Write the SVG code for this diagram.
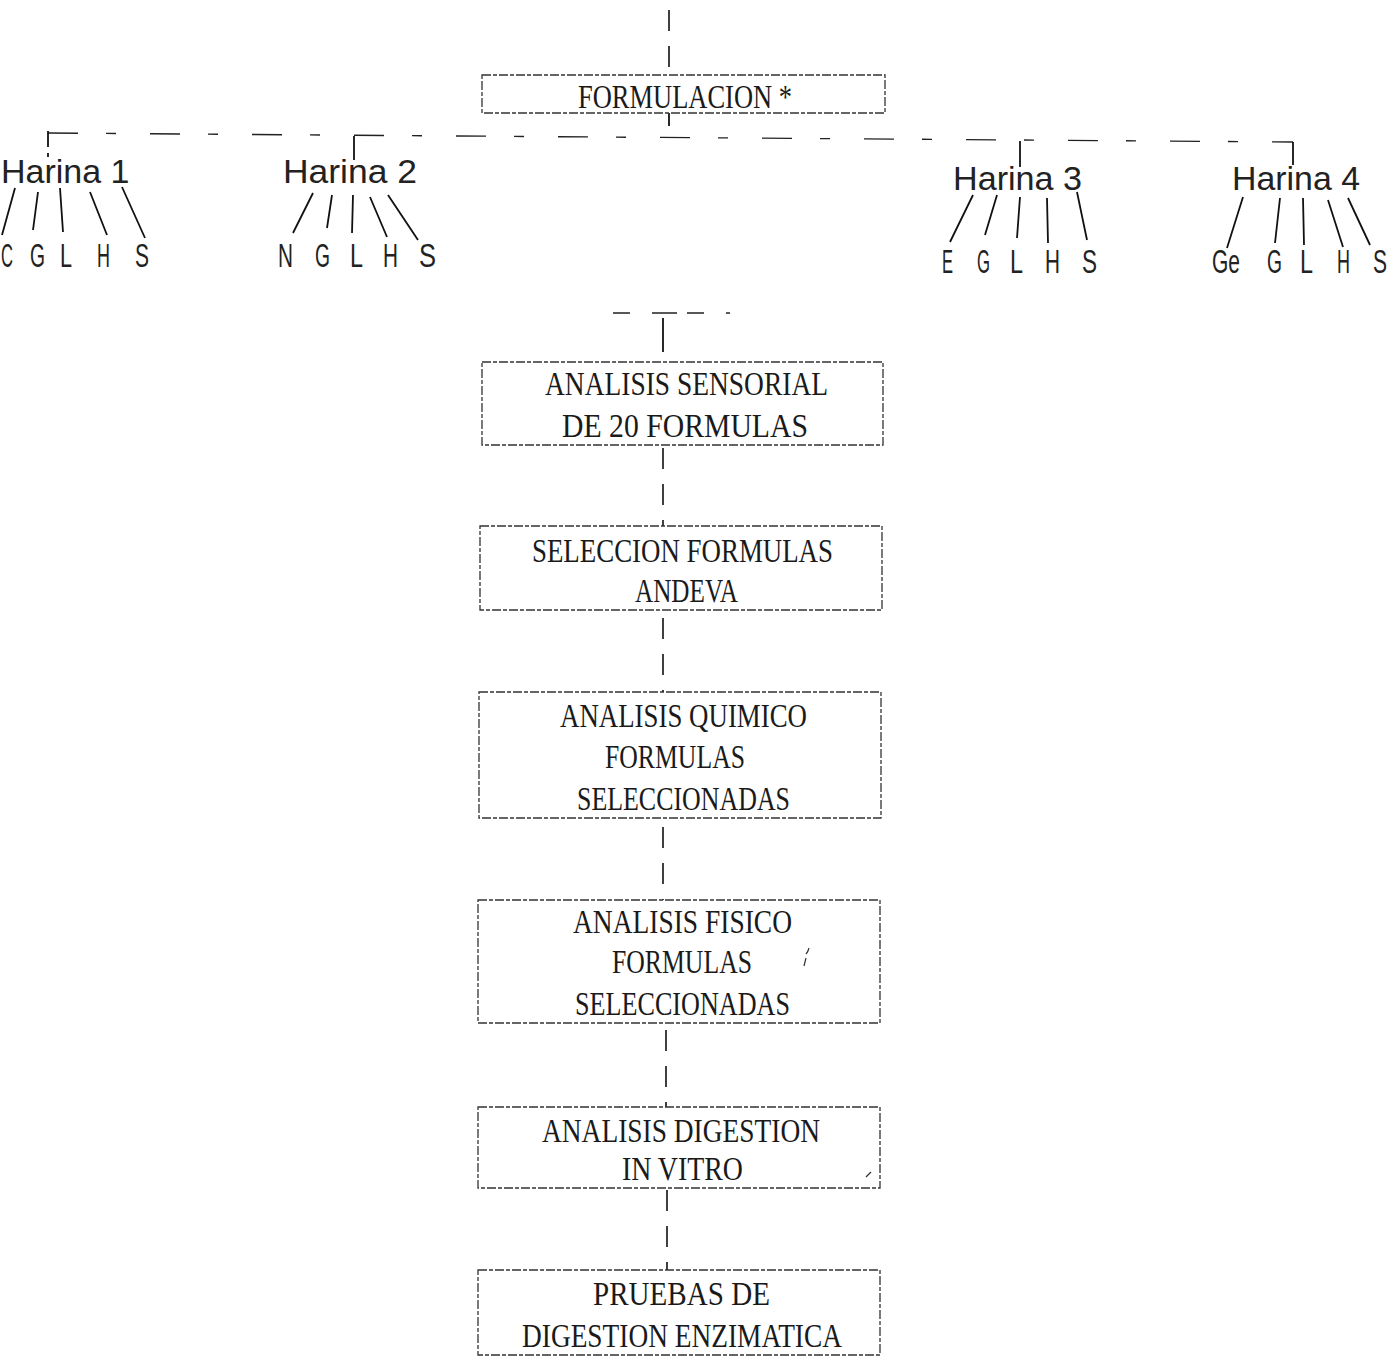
<svg xmlns="http://www.w3.org/2000/svg" width="1397" height="1356" viewBox="0 0 1397 1356">
<defs>
<style>
.box{fill:none;stroke:#333;stroke-width:1.3;stroke-dasharray:9 2 4 2}
.bt{font-family:"Liberation Serif","Times New Roman",serif;font-size:34px;fill:#1a1a1a}
.ht{font-family:"Liberation Sans",Arial,sans-serif;font-size:34px;fill:#222}
.lt{font-family:"Liberation Sans",Arial,sans-serif;font-size:33px;fill:#222}
.dash{fill:none;stroke:#111;stroke-width:1.6;stroke-dasharray:21 15}
.hdash{fill:none;stroke:#222;stroke-width:1.4;stroke-dasharray:30 28 10 34}
.fan{fill:none;stroke:#111;stroke-width:1.8}
.mark{fill:none;stroke:#333;stroke-width:1.2}
</style>
</defs>
<rect width="1397" height="1356" fill="#fff"/>

<g id="connectors">
<path class="dash" d="M669 10V75"/>
<path class="fan" d="M669 113V126"/>
<path class="hdash" d="M48 133L1293 142"/>
<path class="fan" d="M48 131V147M48 153V157"/>
<path class="fan" d="M354 136V160"/>
<path class="fan" d="M1020 141V167"/>
<path class="fan" d="M1293 142V165"/>
<path class="hdash" d="M613 313H730" style="stroke-dasharray:17 22 25 10"/>
<path class="fan" d="M663 318V352"/>
<path class="dash" d="M663 448V526"/>
<path class="dash" d="M663 618V692"/>
<path class="dash" d="M663 827V900"/>
<path class="dash" d="M666 1030V1107"/>
<path class="dash" d="M667 1190V1270"/>
<g id="fan-harina1">
<path class="fan" d="M15 188L2 235M38 192L33 230M60 188L63 232M90 192L107 235M122 187L145 238"/>
</g>
<g id="fan-harina2">
<path class="fan" d="M313 193L293 233M332 195L327 228M353 195L352 233M370 197L387 237M388 195L418 240"/>
</g>
<g id="fan-harina3">
<path class="fan" d="M973 195L950 242M997 195L985 235M1020 197L1017 238M1047 198L1048 243M1077 192L1087 240"/>
</g>
<g id="fan-harina4">
<path class="fan" d="M1243 197L1227 248M1280 198L1275 243M1303 198L1304 245M1328 200L1343 247M1348 198L1370 245"/>
</g>
</g>

<g id="formulacion">
<rect class="box" x="482" y="75" width="403" height="38"/>
<text class="bt" x="578" y="108" font-size="38" textLength="214" lengthAdjust="spacingAndGlyphs">FORMULACION *</text>
</g>

<g id="harina1">
<text class="ht" x="1" y="183">Harina 1</text>
<text class="lt" x="1" y="267" textLength="12" lengthAdjust="spacingAndGlyphs">C</text>
<text class="lt" x="30" y="267" textLength="15" lengthAdjust="spacingAndGlyphs">G</text>
<text class="lt" x="60" y="267" textLength="12" lengthAdjust="spacingAndGlyphs">L</text>
<text class="lt" x="97" y="267" textLength="13" lengthAdjust="spacingAndGlyphs">H</text>
<text class="lt" x="135" y="267" textLength="14" lengthAdjust="spacingAndGlyphs">S</text>
</g>

<g id="harina2">
<text class="ht" x="283" y="183" textLength="134" lengthAdjust="spacingAndGlyphs">Harina 2</text>
<text class="lt" x="278" y="267" textLength="15" lengthAdjust="spacingAndGlyphs">N</text>
<text class="lt" x="315" y="267" textLength="15" lengthAdjust="spacingAndGlyphs">G</text>
<text class="lt" x="350" y="267" textLength="13" lengthAdjust="spacingAndGlyphs">L</text>
<text class="lt" x="383" y="267" textLength="15" lengthAdjust="spacingAndGlyphs">H</text>
<text class="lt" x="419" y="267" textLength="17" lengthAdjust="spacingAndGlyphs">S</text>
</g>

<g id="harina3">
<text class="ht" x="953" y="190" textLength="129" lengthAdjust="spacingAndGlyphs">Harina 3</text>
<text class="lt" x="942" y="273" textLength="11" lengthAdjust="spacingAndGlyphs">E</text>
<text class="lt" x="977" y="273" textLength="13" lengthAdjust="spacingAndGlyphs">G</text>
<text class="lt" x="1010" y="273" textLength="13" lengthAdjust="spacingAndGlyphs">L</text>
<text class="lt" x="1045" y="273" textLength="15" lengthAdjust="spacingAndGlyphs">H</text>
<text class="lt" x="1082" y="273" textLength="15" lengthAdjust="spacingAndGlyphs">S</text>
</g>

<g id="harina4">
<text class="ht" x="1232" y="190" textLength="128" lengthAdjust="spacingAndGlyphs">Harina 4</text>
<text class="lt" x="1212" y="273" textLength="28" lengthAdjust="spacingAndGlyphs">Ge</text>
<text class="lt" x="1267" y="273" textLength="15" lengthAdjust="spacingAndGlyphs">G</text>
<text class="lt" x="1300" y="273" textLength="13" lengthAdjust="spacingAndGlyphs">L</text>
<text class="lt" x="1337" y="273" textLength="13" lengthAdjust="spacingAndGlyphs">H</text>
<text class="lt" x="1373" y="273" textLength="14" lengthAdjust="spacingAndGlyphs">S</text>
</g>

<g id="sensorial">
<rect class="box" x="482" y="362" width="401" height="83"/>
<text class="bt" x="545" y="395" textLength="283" lengthAdjust="spacingAndGlyphs">ANALISIS SENSORIAL</text>
<text class="bt" x="562" y="437" textLength="246" lengthAdjust="spacingAndGlyphs">DE 20 FORMULAS</text>
</g>

<g id="seleccion">
<rect class="box" x="480" y="526" width="402" height="84"/>
<text class="bt" x="532" y="562" textLength="301" lengthAdjust="spacingAndGlyphs">SELECCION FORMULAS</text>
<text class="bt" x="635" y="602" textLength="103" lengthAdjust="spacingAndGlyphs">ANDEVA</text>
</g>

<g id="quimico">
<rect class="box" x="479" y="692" width="402" height="126"/>
<text class="bt" x="560" y="727" textLength="247" lengthAdjust="spacingAndGlyphs">ANALISIS QUIMICO</text>
<text class="bt" x="605" y="768" textLength="140" lengthAdjust="spacingAndGlyphs">FORMULAS</text>
<text class="bt" x="577" y="810" textLength="213" lengthAdjust="spacingAndGlyphs">SELECCIONADAS</text>
</g>

<g id="fisico">
<rect class="box" x="478" y="900" width="402" height="123"/>
<text class="bt" x="573" y="933" textLength="219" lengthAdjust="spacingAndGlyphs">ANALISIS FISICO</text>
<text class="bt" x="612" y="973" textLength="140" lengthAdjust="spacingAndGlyphs">FORMULAS</text>
<text class="bt" x="575" y="1015" textLength="215" lengthAdjust="spacingAndGlyphs">SELECCIONADAS</text>
<path class="mark" d="M809 948Q808 952 806 954M806 958L804 966"/>
</g>

<g id="digestion">
<rect class="box" x="478" y="1107" width="402" height="81"/>
<text class="bt" x="542" y="1142" textLength="278" lengthAdjust="spacingAndGlyphs">ANALISIS DIGESTION</text>
<text class="bt" x="622" y="1180" textLength="121" lengthAdjust="spacingAndGlyphs">IN VITRO</text>
<path class="mark" d="M866 1177L871 1172"/>
</g>

<g id="pruebas">
<rect class="box" x="478" y="1270" width="402" height="85"/>
<text class="bt" x="593" y="1305" textLength="177" lengthAdjust="spacingAndGlyphs">PRUEBAS DE</text>
<text class="bt" x="522" y="1347" textLength="320" lengthAdjust="spacingAndGlyphs">DIGESTION ENZIMATICA</text>
</g>
</svg>
